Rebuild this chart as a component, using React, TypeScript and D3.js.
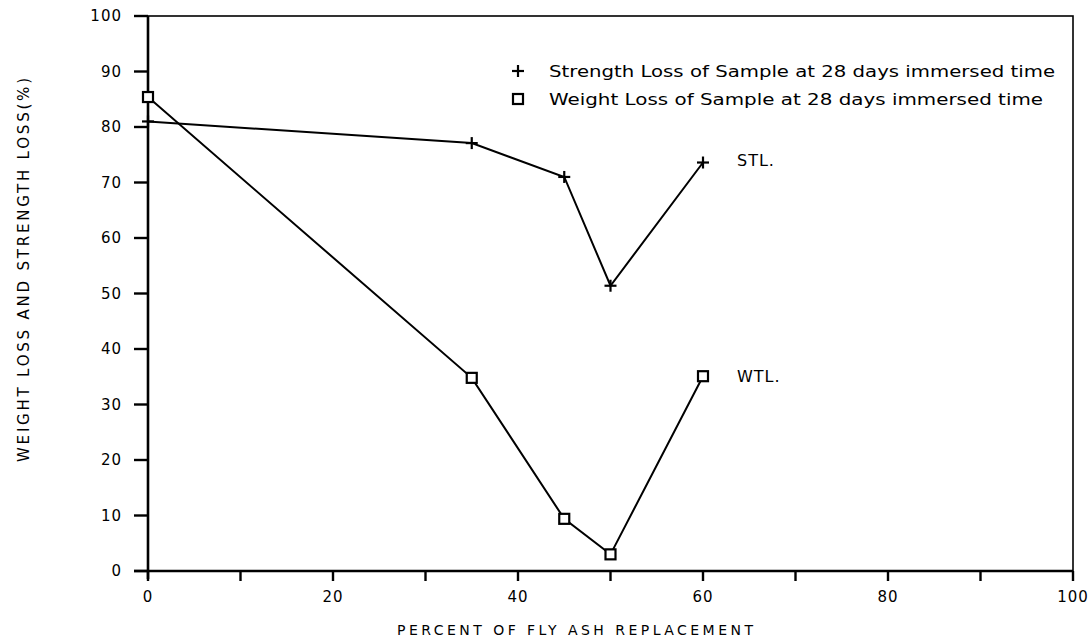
import React from "react";
import * as d3 from "d3";

const xTicks = [0, 10, 20, 30, 40, 50, 60, 70, 80, 90, 100];
const xTickLabels = ["0", "", "20", "", "40", "", "60", "", "80", "", "100"];
const yTicks = [0, 10, 20, 30, 40, 50, 60, 70, 80, 90, 100];

const stlX = [0, 35, 45, 50, 60];
const stlY = [81, 77.1, 71, 51.4, 73.6];
const wtlX = [0, 35, 45, 50, 60];
const wtlY = [85.4, 34.8, 9.4, 3.0, 35.1];

const legendLabels = [
  "Strength Loss of Sample at 28 days immersed time",
  "Weight Loss of Sample at 28 days immersed time",
];
const seriesLabels = ["STL.", "WTL."];
const xTitle = "PERCENT OF FLY ASH REPLACEMENT";
const yTitle = "WEIGHT LOSS AND STRENGTH LOSS(%)";

const W = 1092;
const H = 644;
const M = { left: 148, right: 1073, top: 16, bottom: 571 };
const FONT = "'DejaVu Sans', 'Liberation Sans', sans-serif";

export default function App() {
  const x = d3.scaleLinear().domain([0, 100]).range([M.left, M.right]);
  const y = d3.scaleLinear().domain([0, 100]).range([M.bottom, M.top]);
  const line = d3
    .line<[number, number]>()
    .x((d) => x(d[0]))
    .y((d) => y(d[1]));
  const stl: [number, number][] = stlX.map((v, i) => [v, stlY[i]]);
  const wtl: [number, number][] = wtlX.map((v, i) => [v, wtlY[i]]);

  const plus = (cx: number, cy: number, k: string) => (
    <g key={k} stroke="#000" strokeWidth={2.2}>
      <line x1={cx - 6} x2={cx + 6} y1={cy} y2={cy} />
      <line x1={cx} x2={cx} y1={cy - 6} y2={cy + 6} />
    </g>
  );
  const square = (cx: number, cy: number, k: string) => (
    <rect key={k} x={cx - 5} y={cy - 5} width={10} height={10} fill="#fff" stroke="#000" strokeWidth={2.2} />
  );

  return (
    <svg width={W} height={H} style={{ position: "absolute", left: 0, top: 0, background: "#fff" }} fontFamily={FONT}>
      <rect x={0} y={0} width={W} height={H} fill="#fff" />
      <rect x={M.left} y={M.top} width={M.right - M.left} height={M.bottom - M.top} fill="none" stroke="#000" strokeWidth={1.6} />
      <line x1={M.left} x2={M.left} y1={M.top} y2={M.bottom + 8} stroke="#000" strokeWidth={2.6} />
      <line x1={M.left - 14} x2={M.right} y1={M.bottom} y2={M.bottom} stroke="#000" strokeWidth={2.6} />
      {yTicks.map((t) => (
        <g key={"y" + t}>
          <line x1={M.left - 14} x2={M.left} y1={y(t)} y2={y(t)} stroke="#000" strokeWidth={2.4} />
          <text x={M.left - 26} y={y(t)} dy="0.36em" textAnchor="end" fontSize={15} letterSpacing={1}>
            {t}
          </text>
        </g>
      ))}
      {xTicks.map((t, i) => (
        <g key={"x" + t}>
          <line x1={x(t)} x2={x(t)} y1={M.bottom} y2={M.bottom + 10} stroke="#000" strokeWidth={2.4} />
          {xTickLabels[i] && (
            <text x={x(t)} y={597} dy="0.36em" textAnchor="middle" fontSize={15} letterSpacing={1}>
              {xTickLabels[i]}
            </text>
          )}
        </g>
      ))}
      <path d={line(stl) || ""} fill="none" stroke="#000" strokeWidth={2} />
      <path d={line(wtl) || ""} fill="none" stroke="#000" strokeWidth={2} />
      {stl.map((d, i) => plus(x(d[0]), y(d[1]), "p" + i))}
      {wtl.map((d, i) => square(x(d[0]), y(d[1]), "s" + i))}
      <text x={x(60) + 34} y={y(stlY[4]) - 2} dy="0.36em" fontSize={16} letterSpacing={1}>
        {seriesLabels[0]}
      </text>
      <text x={x(60) + 34} y={y(wtlY[4])} dy="0.36em" fontSize={16} letterSpacing={1}>
        {seriesLabels[1]}
      </text>
      {plus(518, 71, "lp")}
      <text x={549} y={71} dy="0.36em" fontSize={16.5} textLength={506} lengthAdjust="spacingAndGlyphs">
        {legendLabels[0]}
      </text>
      {square(518, 99, "ls")}
      <text x={549} y={99} dy="0.36em" fontSize={16.5} textLength={494} lengthAdjust="spacingAndGlyphs">
        {legendLabels[1]}
      </text>
      <text x={575} y={630} dy="0.36em" textAnchor="middle" fontSize={14} textLength={356} lengthAdjust="spacing">
        {xTitle}
      </text>
      <text
        transform={`translate(24, 270) rotate(-90)`}
        textAnchor="middle"
        dy="0.36em"
        fontSize={15}
        textLength={384}
        lengthAdjust="spacing"
      >
        {yTitle}
      </text>
    </svg>
  );
}
